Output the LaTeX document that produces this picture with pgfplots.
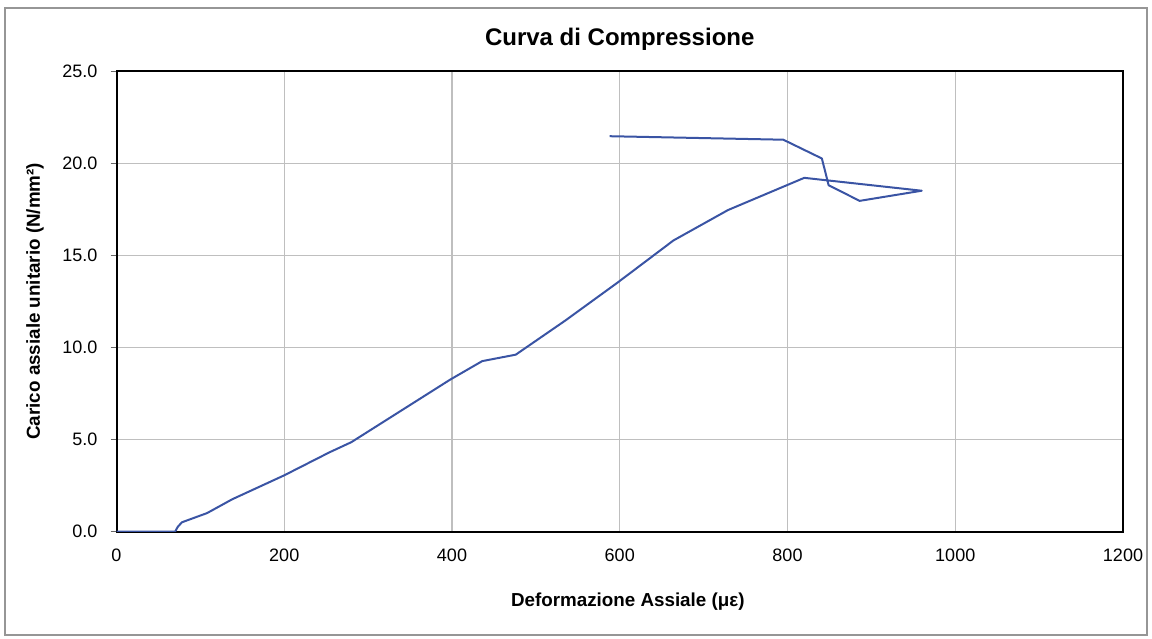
\documentclass[border=0pt]{standalone}
\usepackage{fontspec}
\setmainfont{Liberation Sans}
\usepackage{pgfplots}
\pgfplotsset{compat=1.18}

\definecolor{curveblue}{RGB}{58,84,164}
\definecolor{framegray}{RGB}{150,150,150}

\pgfplotstableread{
x y
0 0
70 0
73 0.25
78 0.5
108 1.0
138 1.75
200 3.05
254 4.3
280 4.85
398 8.25
436 9.25
476 9.6
535 11.45
597 13.5
664 15.8
729 17.45
820 19.2
960 18.5
886 17.95
849 18.8
841 20.25
795 21.27
588 21.46
}\curvedata

\begin{document}
\begin{tikzpicture}
\useasboundingbox (0,0) rectangle (576pt,319pt);
\draw[framegray, line width=0.8pt] (2.5pt,1.5pt) rectangle (573.5pt,315pt);
\begin{axis}[
    at={(58.25pt,53.25pt)}, anchor=south west,
    scale only axis,
    width=503.25pt, height=230.25pt,
    xmin=0, xmax=1200, ymin=0, ymax=25,
    xtick={0,200,...,1200},
    ytick={0,5,...,25},
    ytick pos=left,
    /pgf/number format/assume math mode=true,
    xticklabel style={/pgf/number format/1000 sep={}, font=\fontsize{9}{10}\selectfont, yshift=-2pt},
    yticklabel style={/pgf/number format/fixed, /pgf/number format/fixed zerofill,
        /pgf/number format/precision=1, font=\fontsize{9}{10}\selectfont, xshift=-3pt},
    tick align=outside,
    major tick length=3pt,
    tick style={black!60, line width=0.4pt},
    xtick style={draw=none},
    ymajorgrids, xmajorgrids,
    grid style={black!25, line width=0.6pt},
    axis line style={black, line width=1pt},
    every axis title shift=0pt,
    title={\bfseries Curva di Compressione},
    title style={font=\fontsize{12}{14}\selectfont, at={(axis description cs:0.5,1.0695)}, anchor=center},
    xlabel={\bfseries Deformazione Assiale (με)},
    xlabel style={font=\fontsize{9.4}{11}\selectfont, at={(axis description cs:0.508,-0.153)}, anchor=center},
    ylabel={\bfseries Carico assiale unitario (N/mm²)},
    ylabel style={font=\fontsize{9.4}{11}\selectfont, at={(axis description cs:-0.081,0.5)}, anchor=center},
]
\addplot[curveblue, line width=1pt, mark=none, line join=round] table[x=x, y=y] {\curvedata};
\end{axis}
\end{tikzpicture}
\end{document}
